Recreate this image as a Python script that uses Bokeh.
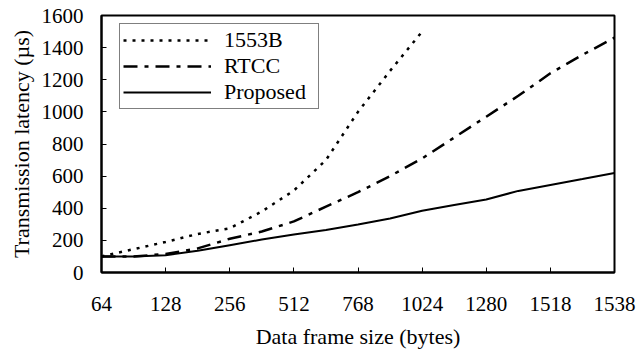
from bokeh.plotting import figure
from bokeh.models import Range1d, FixedTicker, Legend, LegendItem
from bokeh.embed import file_html
from bokeh.resources import INLINE

# ---- data ----
x_labels = ["64", "128", "256", "512", "768", "1024", "1280", "1518", "1538"]
# positions of samples (half-steps between labelled categories)
x_half = [i / 2 for i in range(17)]
lat_1553b = [100, 145, 190, 240, 275, 380, 510, 700, 1000, 1255, 1500]
lat_rtcc = [100, 100, 115, 150, 210, 255, 318, 410, 500, 600, 710, 840, 970, 1100, 1240, 1355, 1462]
lat_proposed = [100, 100, 108, 135, 170, 205, 237, 265, 299, 336, 385, 420, 455, 508, 545, 582, 620]
y_ticks = [0, 200, 400, 600, 800, 1000, 1200, 1400, 1600]

FONT = "Liberation Serif"

p = figure(width=637, height=353, output_backend="svg", toolbar_location=None,
           x_range=Range1d(0, 8), y_range=Range1d(0, 1600),
           min_border_left=101, min_border_top=15, min_border_right=23, min_border_bottom=81)
p.grid.visible = False
p.outline_line_color = "black"
p.outline_line_width = 2
p.background_fill_color = "white"
p.border_fill_color = "white"

r1 = p.line(x_half[:len(lat_1553b)], lat_1553b, line_color="black", line_width=2.5, line_dash="3 6")
r2 = p.line(x_half[:len(lat_rtcc)], lat_rtcc, line_color="black", line_width=2.5, line_dash="14 7 4 7")
r3 = p.line(x_half[:len(lat_proposed)], lat_proposed, line_color="black", line_width=2)

for ax in (p.xaxis[0], p.yaxis[0]):
    ax.axis_line_width = 2
    ax.axis_line_color = "black"
    ax.major_tick_in = 5
    ax.major_tick_out = 0
    ax.minor_tick_in = 0
    ax.minor_tick_out = 0
    ax.major_tick_line_color = "black"
    ax.major_label_text_font = FONT
    ax.major_label_text_font_size = "21px"
    ax.major_label_text_color = "black"
    ax.axis_label_text_font = FONT
    ax.axis_label_text_font_size = "22px"
    ax.axis_label_text_font_style = "normal"
    ax.axis_label_text_color = "black"

p.xaxis.ticker = FixedTicker(ticks=list(range(len(x_labels))))
p.xaxis.major_label_overrides = {i: s for i, s in enumerate(x_labels)}
p.xaxis.axis_label = "Data frame size (bytes)"
p.xaxis.major_label_standoff = 24
p.xaxis.axis_label_standoff = 10

p.yaxis.ticker = FixedTicker(ticks=y_ticks)
p.yaxis.axis_label = "Transmission latency (µs)"
p.yaxis.major_label_standoff = 18
p.yaxis.axis_label_standoff = 5

legend = Legend(items=[LegendItem(label="1553B", renderers=[r1]),
                       LegendItem(label="RTCC", renderers=[r2]),
                       LegendItem(label="Proposed", renderers=[r3])],
                location=(18, 163), orientation="vertical")
legend.margin = 0
legend.padding = 3
legend.spacing = 0
legend.glyph_width = 88
legend.glyph_height = 20
legend.label_height = 20
legend.label_width = 91
legend.label_standoff = 13
legend.label_text_font = FONT
legend.label_text_font_size = "22px"
legend.label_text_color = "black"
legend.border_line_color = "black"
legend.border_line_width = 1
legend.background_fill_color = "white"
legend.background_fill_alpha = 1
p.add_layout(legend, "center")

open("out.html", "w").write(file_html(p, INLINE))
